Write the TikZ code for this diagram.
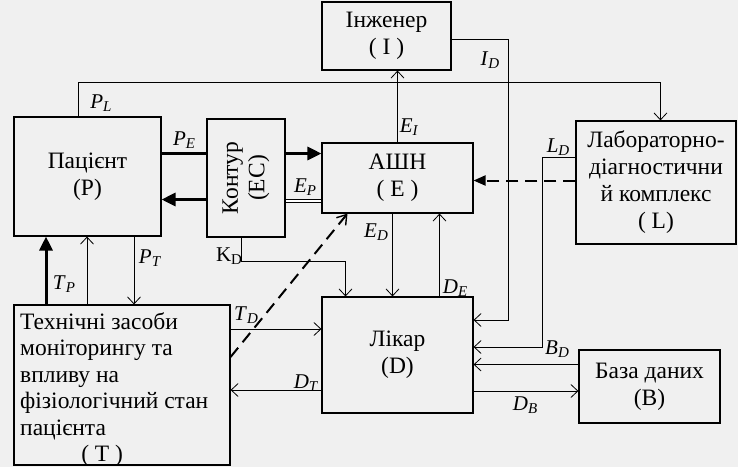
\documentclass[tikz,border=0pt]{standalone}
\usepackage{fontspec}
\setmainfont{Liberation Serif}
\usetikzlibrary{arrows.meta}
\newcommand{\lbl}[2]{\textit{#1}\raisebox{-0.35ex}{\fontsize{15}{15}\selectfont\textit{#2}}}
\begin{document}
\begin{tikzpicture}[x=1pt,y=-1pt,
  box/.style={draw, line width=1.1pt, inner sep=0pt, align=center, font=\fontsize{23.5}{27}\selectfont},
  txt/.style={inner sep=0pt, font=\fontsize{23.5}{26.5}\selectfont},
  ln/.style={line width=0.8pt},
  arr/.style={ln, -{Straight Barb[length=7pt,width=13pt]}},
  fat/.style={line width=3pt},
  fatarr/.style={line width=3pt, -{Triangle[length=14pt,width=13pt]}},
  dasharr/.style={line width=2pt, dash pattern=on 12pt off 7pt, -{Triangle[length=12pt,width=10pt]}},
  dasharrb/.style={line width=2pt, dash pattern=on 12pt off 7pt, -{Straight Barb[length=9pt,width=12pt,line width=1.4pt]}},
  lab/.style={inner sep=0pt, font=\fontsize{21}{21}\selectfont}]
\fill[black!6] (0,0) rectangle (738,467);
\useasboundingbox (0,0) rectangle (738,467);
% boxes
\node[box, minimum width=129pt, minimum height=68pt] (I) at (386.5,36) {Інженер\\( I )};
\node[box, minimum width=147pt, minimum height=119pt] (P) at (87.5,176.5) {Пацієнт\\(P)};
\node[box, minimum width=78pt, minimum height=118pt] (EC) at (246,178) {};
\node[txt, rotate=90, align=center] (ECt) at (EC.center) {Контур\\(EC)};
\node[box, minimum width=151pt, minimum height=70pt] (E) at (397.5,178) {АШН\\( E )};
\node[box, minimum width=160pt, minimum height=123pt] (L) at (656,182.5) {Лабораторно-\\діагностични\\й комплекс\\( L)};
\node[box, minimum width=151pt, minimum height=116pt] (D) at (397.5,355) {Лікар\\(D)};
\node[box, minimum width=141pt, minimum height=73pt] (B) at (649.5,386.5) {База даних\\(B)};
\node[box, minimum width=216pt, minimum height=160pt] (T) at (122,385) {};
\node[txt, align=left, anchor=north west] (Tt) at (20,312) {Технічні засоби\\моніторингу та\\впливу на\\фізіологічний стан\\пацієнта\\\hspace{2.6em}( T )};
% connectors
\draw[arr] ([xshift=65pt]P.north west) -- ++(0,-34) -| ([xshift=85pt]L.north west);
\draw[arr] ([yshift=-3pt]I.east) -- ++(57,0) |- ([yshift=35pt]D.east);
\draw[arr] (E.north) -- (E.north |- I.south);
\draw[arr] ([yshift=25pt]L.west) -- ++(-33,0) |- ([yshift=8pt]D.east);
\draw[arr] ([yshift=22pt]B.west) -- ([yshift=22pt]B.west -| D.east);
\draw[arr] ([yshift=-36pt]D.east) -- ([yshift=-36pt]D.east -| B.west);
\draw[dasharr] ([yshift=2pt]L.west) -- ([yshift=2pt]L.west -| E.east);
\draw[fat] ([yshift=23pt]P.east) -- ([yshift=23pt]P.east -| EC.west);
\draw[fatarr] ([yshift=23pt]P.east -| EC.east) -- ([yshift=23pt]P.east -| E.west);
\draw[fatarr] ([yshift=-23pt]P.east -| EC.west) -- ([yshift=-23pt]P.east);
\draw[line width=0.7pt, double, double distance=2pt] ([yshift=-23pt]E.west) -- ([yshift=-23pt]E.west -| EC.east);
\draw[arr] ([xshift=-5pt]EC.south) -- ++(0,24) -| ([xshift=-52pt]D.north);
\draw[arr] ([xshift=-5pt]E.south) -- ([xshift=-5pt]E.south |- D.north);
\draw[arr] ([xshift=42pt]D.north) -- ([xshift=42pt]D.north |- E.south);
\draw[dasharrb] ([yshift=28pt]T.east) -- ([xshift=-50pt]E.south);
\draw[fatarr] ([xshift=-76pt]T.north) -- ([xshift=-76pt]T.north |- P.south);
\draw[arr] ([xshift=-35pt]T.north) -- ([xshift=-35pt]T.north |- P.south);
\draw[arr] ([xshift=46.5pt]P.south) -- ([xshift=46.5pt]P.south |- T.north);
\draw[arr] ([yshift=56pt]T.east) -- ([yshift=56pt]T.east -| D.west);
\draw[arr] ([yshift=-35pt]D.west) -- ([yshift=-35pt]D.west -| T.east);
% labels
\node[lab] (lPL) at (101,103) {\lbl{P}{L}};
\node[lab] (lID) at (490,60) {\lbl{I}{D}};
\node[lab] (lEI) at (409,127) {\lbl{E}{I}};
\node[lab] (lLD) at (558,147) {\lbl{L}{D}};
\node[lab] (lBD) at (557,349) {\lbl{B}{D}};
\node[lab] (lDB) at (525,405) {\lbl{D}{B}};
\node[lab] (lPE) at (184,140) {\lbl{P}{E}};
\node[lab] (lEP) at (305,187) {\lbl{E}{P}};
\node[lab] (lKD) at (229,256) {K\raisebox{-0.35ex}{\fontsize{15}{15}\selectfont D}};
\node[lab] (lED) at (376,232) {\lbl{E}{D}};
\node[lab] (lDE) at (455,288) {\lbl{D}{E}};
\node[lab] (lTP) at (64,284) {\lbl{T}{P}};
\node[lab] (lPT) at (150,258) {\lbl{P}{T}};
\node[lab] (lTD) at (246,315) {\lbl{T}{D}};
\node[lab] (lDT) at (306,383) {\lbl{D}{T}};
\end{tikzpicture}
\end{document}
